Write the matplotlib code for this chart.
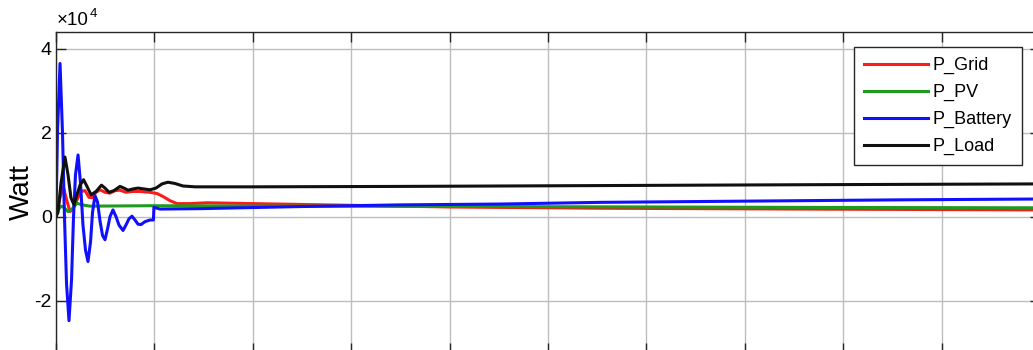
#!/usr/bin/env python3
"""
Power flow plot: grid, PV, battery and load power (Watt) over time.
"""

import matplotlib
matplotlib.use("Agg")
import matplotlib.pyplot as plt

plt.rcParams['font.family'] = ['Liberation Sans', 'DejaVu Sans']

SCALE = 1e4  # axis shows values x10^4

# Battery power (W)
t_batt = [0, 0.015, 0.041, 0.066, 0.086, 0.107, 0.132, 0.158, 0.178, 0.198,
          0.224, 0.249, 0.274, 0.300, 0.325, 0.351, 0.371, 0.396, 0.422, 0.447,
          0.473, 0.498, 0.523, 0.549, 0.579, 0.610, 0.640, 0.681, 0.711, 0.742,
          0.772, 0.803, 0.833, 0.864, 0.904, 0.955, 0.990, 0.995, 1.057, 1.463,
          2.480, 3.496, 4.512, 5.528, 6.545, 7.561, 8.577, 10.0]
p_batt = [0, 20000, 36500, 20000, 0, -16000, -24800, -15000, 0, 10000,
          14700, 8000, -2000, -8000, -10700, -6000, 1000, 5000, 3500, -1000,
          -4500, -5500, -3000, 0, 1600, 0, -2000, -3300, -2000, -500,
          100, -800, -1800, -1900, -1200, -800, -800, 2200, 1800, 1900,
          2400, 2800, 3000, 3400, 3600, 3800, 4000, 4200]

# Load power (W)
t_load = [0, 0.020, 0.051, 0.091, 0.122, 0.152, 0.183, 0.203, 0.244, 0.280,
          0.315, 0.356, 0.407, 0.462, 0.498, 0.539, 0.589, 0.650, 0.691, 0.732,
          0.783, 0.833, 0.894, 0.955, 1.016, 1.077, 1.138, 1.209, 1.291, 1.413,
          1.972, 3.496, 5.528, 7.561, 10.0]
p_load = [0, 1000, 8000, 14200, 10000, 4500, 2800, 4500, 7500, 8800,
          7200, 5200, 6000, 7500, 6800, 5800, 6200, 7200, 6800, 6300,
          6600, 6800, 6600, 6400, 6800, 7800, 8200, 7900, 7300, 7100,
          7100, 7200, 7400, 7600, 7800]

# Grid power (W)
t_grid = [0, 0.041, 0.076, 0.102, 0.142, 0.173, 0.213, 0.254, 0.295, 0.335,
          0.366, 0.407, 0.447, 0.498, 0.549, 0.600, 0.650, 0.711, 0.772, 0.854,
          0.955, 1.027, 1.087, 1.159, 1.230, 1.362, 1.534, 2.002, 2.988, 4.004,
          5.528, 7.561, 10.0]
p_grid = [0, 4500, 7000, 4500, 1200, 1800, 4000, 6000, 6200, 4600,
          4500, 5800, 6400, 5800, 5600, 6200, 6300, 5800, 6000, 6000,
          5800, 5500, 4800, 3800, 3100, 3100, 3300, 3100, 2700, 2300,
          2000, 1800, 1600]

# PV power (W)
t_pv = [0, 0.020, 0.051, 0.081, 0.122, 0.163, 0.213, 0.264, 0.346, 0.955,
        2.480, 4.512, 7.561, 10.0]
p_pv = [0, 1500, 2500, 2200, 1200, 1800, 3200, 2800, 2500, 2600,
        2500, 2400, 2200, 2100]

series = [
    ("P_Grid", t_grid, p_grid, "#ff1a1a"),
    ("P_PV", t_pv, p_pv, "#1f9a1f"),
    ("P_Battery", t_batt, p_batt, "#1010ff"),
    ("P_Load", t_load, p_load, "#101010"),
]

x_ticks = list(range(0, 11))
y_ticks = [-2, 0, 2, 4]


def main():
    W, H = 1033, 350
    fig = plt.figure(figsize=(W / 100, H / 100), dpi=100)
    # axes extend a bit past the right and bottom edges (cropped figure)
    ax = fig.add_axes([56 / W, -3 / H, 984 / W, 321 / H])

    for label, t, p, color in series:
        ax.plot(t, [v / SCALE for v in p], color=color, lw=2.2, label=label)

    ax.set_xlim(0, 10)
    ax.set_ylim(-3.25, 4.40)
    ax.set_xticks(x_ticks)
    ax.set_yticks(y_ticks)
    ax.set_yticklabels([str(v) for v in y_ticks], fontsize=14)
    ax.tick_params(axis='both', direction='in', length=7, width=1,
                   color='#262626', top=True, right=True,
                   labelbottom=False, pad=3)
    ax.grid(True, color='#bdbdbd', lw=1.0)
    ax.set_axisbelow(True)
    for s in ax.spines.values():
        s.set_color('#262626')
        s.set_linewidth(1.0)

    # y label and exponent marker
    fig.text(22 / W, 1 - 192 / H, "Watt", rotation=90, fontsize=20,
             ha='center', va='center')
    fig.text(57 / W, 1 - 25 / H, "\u00d710", fontsize=13.5,
             ha='left', va='baseline')
    fig.text(90 / W, 1 - 17 / H, "4", fontsize=9.5, ha='left', va='baseline')

    leg = ax.legend(loc='upper right', bbox_to_anchor=(1022 / W, 1 - 47 / H),
                    bbox_transform=fig.transFigure, borderaxespad=0,
                    fontsize=13, handlelength=3.5, handletextpad=0.3,
                    labelspacing=0.55, borderpad=0.55, fancybox=False,
                    framealpha=1, edgecolor='#262626')
    leg.get_frame().set_linewidth(1.0)
    for line in leg.get_lines():
        line.set_linewidth(2.2)

    fig.savefig("out.png", dpi=100)
    print("saved out.png")


if __name__ == "__main__":
    main()
